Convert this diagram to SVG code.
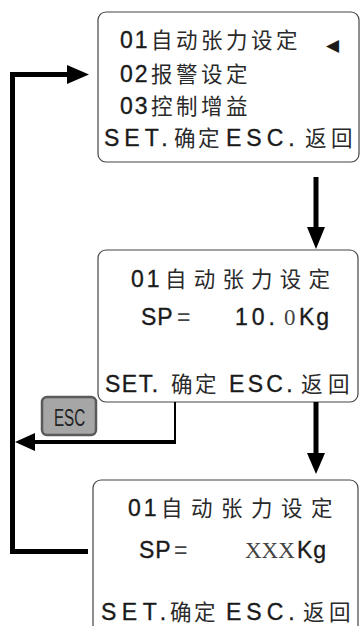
<svg xmlns="http://www.w3.org/2000/svg" width="360" height="626" viewBox="0 0 360 626">
<style>
.box{fill:#fff;stroke:#444;stroke-width:1.2}
.t{font-family:"Liberation Sans","Noto Sans CJK SC",sans-serif;font-size:23px;fill:#1a1a1a;stroke:#1a1a1a;stroke-width:0.35}
.C{font-family:"Noto Sans CJK SC","Liberation Sans",sans-serif;font-size:21.5px;fill:#2a2a2a;stroke:none}
.thin{font-family:"Liberation Serif",serif;fill:#444;stroke:none}
.ln{fill:none;stroke:#000;stroke-linejoin:miter}
.hd{fill:#000}
</style>
<rect width="360" height="626" fill="#fff"/>
<g id="node-menu">
<rect class="box" x="98" y="12" width="261" height="150" rx="8"/>
<text class="t" y="48"><tspan x="120" letter-spacing="2">01</tspan><tspan class="C" x="151" letter-spacing="3.5">自动张力设定</tspan></text>
<text x="326" y="51" font-family="DejaVu Sans,sans-serif" font-size="17" fill="#1a1a1a">◀</text>
<text class="t" y="82"><tspan x="120" letter-spacing="2">02</tspan><tspan class="C" x="151" letter-spacing="3.5">报警设定</tspan></text>
<text class="t" y="114"><tspan x="120" letter-spacing="2">03</tspan><tspan class="C" x="151" letter-spacing="3.5">控制增益</tspan></text>
<text class="t" y="146"><tspan x="104" letter-spacing="5">SET.</tspan><tspan class="C" x="174" letter-spacing="2.5">确定</tspan><tspan x="226" letter-spacing="5">ESC.</tspan><tspan class="C" x="305" letter-spacing="4.5">返回</tspan></text>
</g>
<g id="node-setting">
<rect class="box" x="98" y="250" width="260" height="152" rx="8"/>
<text class="t" y="287"><tspan x="131" letter-spacing="3">01</tspan><tspan class="C" x="165" letter-spacing="7.2">自动张力设定</tspan></text>
<text class="t" y="325"><tspan x="141" letter-spacing="1">SP</tspan><tspan x="177" fill="#444" stroke="none">=</tspan><tspan x="235" letter-spacing="4">10.</tspan><tspan class="thin" x="284">0</tspan><tspan x="299" letter-spacing="2">Kg</tspan></text>
<text class="t" y="392"><tspan x="105" letter-spacing="1.5">SET.</tspan><tspan class="C" x="171" letter-spacing="2.5">确定</tspan><tspan x="229" letter-spacing="3.3">ESC.</tspan><tspan class="C" x="301" letter-spacing="5.5">返回</tspan></text>
</g>
<g id="node-edit">
<rect class="box" x="93" y="480" width="265" height="170" rx="8"/>
<text class="t" y="516"><tspan x="128" letter-spacing="3">01</tspan><tspan class="C" x="161" letter-spacing="8.5">自动张力设定</tspan></text>
<text class="t" y="558"><tspan x="139" letter-spacing="1">SP</tspan><tspan x="174" fill="#444" stroke="none">=</tspan><tspan class="thin" x="245">XXX</tspan><tspan x="297" letter-spacing="1">Kg</tspan></text>
<text class="t" y="620"><tspan x="101" letter-spacing="5.5">SET.</tspan><tspan class="C" x="170" letter-spacing="2.5">确定</tspan><tspan x="226" letter-spacing="5">ESC.</tspan><tspan class="C" x="303" letter-spacing="4.5">返回</tspan></text>
</g>
<g id="node-esc">
<rect x="42" y="397" width="54" height="38" rx="5" fill="#a6a6a6" stroke="#5a5a5a" stroke-width="2.5"/>
<text transform="translate(54,426) scale(0.66,1)" font-family="Liberation Sans,sans-serif" font-size="23" fill="#222">ESC</text>
</g>
<g id="connectors">
<line class="ln" x1="316" y1="177" x2="316" y2="229" stroke-width="5"/>
<polygon class="hd" points="307,227 325,227 316,249"/>
<line class="ln" x1="316" y1="402" x2="316" y2="455" stroke-width="5"/>
<polygon class="hd" points="307,453 325,453 316,474"/>
<polyline class="ln" points="175,402 175,442" stroke-width="2"/>
<polyline class="ln" points="176,442 33,442" stroke-width="4"/>
<polygon class="hd" points="15,442 35,433 35,451"/>
<polyline class="ln" points="88,551.5 12.5,551.5 12.5,74.5 69,74.5" stroke-width="5"/>
<polygon class="hd" points="67,65 67,84 89,74.5"/>
</g>
</svg>
